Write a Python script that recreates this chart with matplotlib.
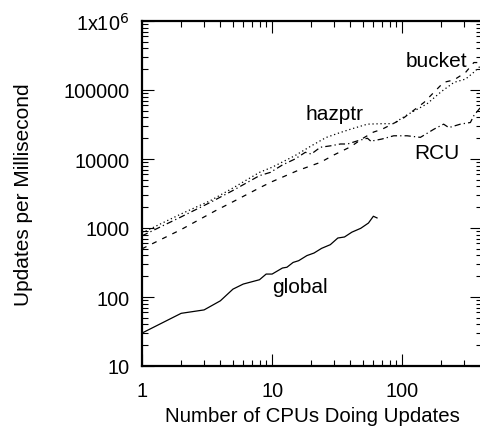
import matplotlib
matplotlib.use("Agg")
import matplotlib.pyplot as plt
from matplotlib.ticker import FixedLocator, NullFormatter, LogLocator

plt.rcParams['font.family'] = ['Liberation Sans', 'DejaVu Sans']

# Data
global_x = [1, 2, 3, 4, 5, 6, 8, 9, 10, 12, 13, 14.5, 16, 18.5, 21, 24, 28, 32, 36, 41, 48, 55, 60, 64]
global_y = [30, 58, 65, 88, 130, 154, 178, 215, 215, 263, 270, 317, 336, 398, 434, 507, 573, 716, 741, 870, 990, 1180, 1480, 1400]

hazptr_x = [1, 2, 3.35, 5, 8, 10, 15, 20, 26, 33, 40, 54, 70, 85, 110, 155, 200, 250, 307, 355, 400]
hazptr_y = [850, 1600, 2490, 3800, 6400, 7600, 11200, 15500, 20500, 24000, 27000, 32000, 32500, 32500, 44000, 63000, 95000, 129000, 144000, 181000, 224000]

rcu_x = [1, 2, 3.35, 5, 8, 9.7, 12, 15, 18, 20, 23.5, 28, 33.5, 38, 46, 54, 58, 60, 70, 86, 109, 138, 175, 208, 228, 280, 334, 355, 400]
rcu_y = [770, 1450, 2350, 3500, 5740, 6400, 8200, 10000, 12500, 11800, 14800, 15500, 16500, 16500, 18500, 20000, 17800, 18400, 19500, 21700, 21700, 20600, 27000, 32000, 28500, 32000, 33800, 42500, 56000]

bucket_x = [1, 2, 3.67, 5, 8.13, 10, 15.6, 23.5, 30, 40, 50, 60, 70, 100, 147, 208, 250, 307, 355, 400]
bucket_y = [500, 950, 1780, 2400, 3880, 4700, 6760, 8940, 11500, 15000, 20000, 24500, 27000, 38000, 66000, 129000, 140000, 180000, 250000, 250000]

x_ticks = [1, 10, 100]
x_ticklabels = ['1', '10', '100']
y_ticks = [10, 100, 1000, 10000, 100000, 1000000]
y_ticklabels = ['10', '100', '1000', '10000', '100000', r'1x10$^{6}$']

fig = plt.figure(figsize=(4.81, 4.31), dpi=100)
ax = fig.add_axes([142/481, 1 - 367/431, 1 - 142/481 + 0.002, (367 - 22)/431])

lw = 0.9
ax.plot(global_x, global_y, color='black', lw=lw, linestyle='-')
ax.plot(hazptr_x, hazptr_y, color='black', lw=lw, linestyle=(0, (1, 2.2)))
ax.plot(rcu_x, rcu_y, color='black', lw=lw, linestyle=(0, (5, 2.5, 1, 2.5)))
ax.plot(bucket_x, bucket_y, color='black', lw=lw, linestyle=(0, (4, 5)))

ax.set_xscale('log')
ax.set_yscale('log')
ax.set_xlim(1, 410)
ax.set_ylim(10, 1e6)

ax.xaxis.set_major_locator(FixedLocator(x_ticks))
ax.set_xticklabels(x_ticklabels)
ax.yaxis.set_major_locator(FixedLocator(y_ticks))
ax.set_yticklabels(y_ticklabels)
ax.xaxis.set_minor_locator(LogLocator(base=10, subs=range(2, 10)))
ax.yaxis.set_minor_locator(LogLocator(base=10, subs=range(2, 10)))
ax.xaxis.set_minor_formatter(NullFormatter())
ax.yaxis.set_minor_formatter(NullFormatter())

ax.tick_params(which='both', direction='in', top=True, right=True, labelsize=14.3, colors='black')
ax.tick_params(axis='x', which='major', length=8.5, width=0.8, pad=11)
ax.tick_params(axis='y', which='major', length=8.5, width=0.8, pad=9)
ax.tick_params(which='minor', length=4, width=0.8)

for s in ax.spines.values():
    s.set_linewidth(1.6)

ax.set_xlabel('Number of CPUs Doing Updates', fontsize=14.7, labelpad=4)
ax.set_ylabel('Updates per Millisecond', fontsize=15, labelpad=22)

ax.text(183, 2.7e5, 'bucket', fontsize=15, ha='center', va='center')
ax.text(30.4, 4.5e4, 'hazptr', fontsize=15, ha='center', va='center')
ax.text(183, 1.25e4, 'RCU', fontsize=15, ha='center', va='center')
ax.text(16.5, 140, 'global', fontsize=15, ha='center', va='center')

fig.savefig('out.png', dpi=100)
